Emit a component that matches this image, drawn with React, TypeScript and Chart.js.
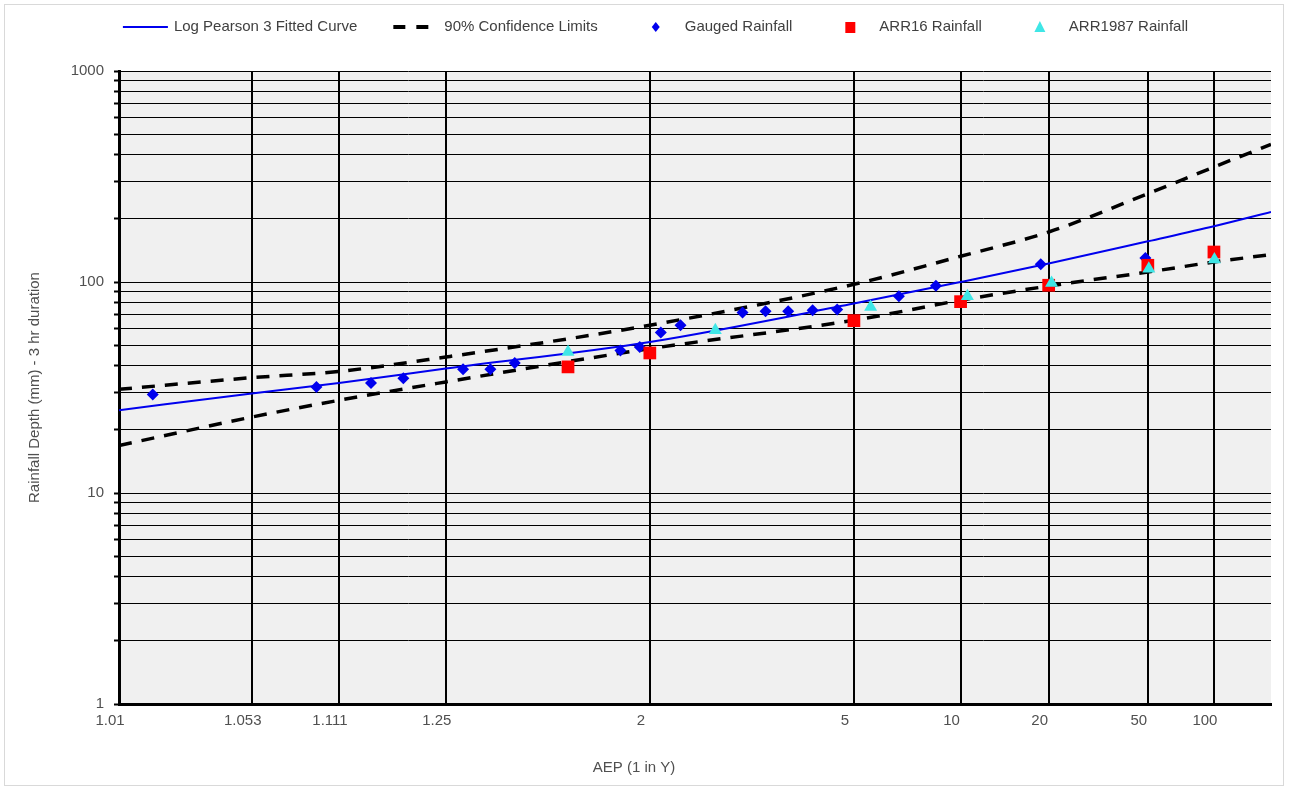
import React, { useEffect, useRef } from 'react';
import { Chart, registerables } from 'chart.js';

Chart.register(...registerables);

const FONT = "'Liberation Sans', Arial, sans-serif";
const FONT_SIZE = 15;
const TEXT_COLOR = '#505050';
const LEGEND_TEXT_COLOR = '#404040';

// ---- axes ----
const X_AXIS_MIN_AEP = 1.0145;
const X_AXIS_MAX_AEP = 192;
const X_TICK_AEPS = [1.01, 1.053, 1.111, 1.25, 2, 5, 10, 20, 50, 100];
const X_TICK_LABELS = ['1.01', '1.053', '1.111', '1.25', '2', '5', '10', '20', '50', '100'];
const X_TITLE = 'AEP (1 in Y)';
const Y_MIN = 1;
const Y_MAX = 1000;
const Y_DECADES = [1, 10, 100, 1000];
const Y_MINOR_MULTIPLIERS = [2, 3, 4, 5, 6, 7, 8, 9];
const Y_TITLE = 'Rainfall Depth (mm) - 3 hr duration';

// ---- curves (AEP 1 in Y vs depth mm) ----
const CURVE_AEP = [1.0145, 1.053, 1.111, 1.25, 2, 5, 10, 20, 50, 100, 192];
const FITTED = [24.7, 29.6, 33.2, 38.9, 52.0, 79.0, 100, 122.3, 155.9, 183.7, 214.7];
const UPPER_90 = [31.0, 35.2, 37.7, 44.1, 62.4, 97.5, 132.4, 172.6, 262, 350.8, 449];
const LOWER_90 = [16.8, 22.9, 27.5, 33.6, 48.3, 65.9, 81.9, 95.7, 111.5, 124.4, 134.9];

// ---- gauged rainfall ----
const GAUGED_AEP = [1.0206, 1.0924, 1.143, 1.183, 1.283, 1.343, 1.406, 1.824, 1.936, 2.075, 2.224, 2.848, 3.159, 3.519, 3.984, 4.548, 6.57, 8.4, 18.7, 48.8];
const GAUGED_DEPTH = [29.3, 31.8, 33.2, 35.0, 38.6, 38.6, 41.3, 47.3, 49.2, 57.6, 62.4, 71.6, 72.6, 72.6, 73.4, 74.0, 85.5, 96.1, 121.3, 130];

// ---- ARR16 ----
const ARR16_AEP = [1.582, 2, 5, 10, 20, 50, 100];
const ARR16_DEPTH = [39.6, 46.1, 65.6, 80.7, 96.5, 120, 138.7];

// ---- ARR1987 ----
const ARR87_AEP = [1.582, 2.541, 5.517, 10.51, 20.5, 50.5, 100.5];
const ARR87_DEPTH = [46.6, 59.0, 76.1, 85.5, 98.9, 115.7, 127.7];

// inverse standard normal CDF (Acklam)
function normInv(p: number): number {
  const a = [-3.969683028665376e1, 2.209460984245205e2, -2.759285104469687e2, 1.38357751867269e2, -3.066479806614716e1, 2.506628277459239];
  const b = [-5.447609879822406e1, 1.615858368580409e2, -1.556989798598866e2, 6.680131188771972e1, -1.328068155288572e1];
  const c = [-7.784894002430293e-3, -3.223964580411365e-1, -2.400758277161838, -2.549732539343734, 4.374664141464968, 2.938163982698783];
  const d = [7.784695709041462e-3, 3.224671290700398e-1, 2.445134137142996, 3.754408661907416];
  const pl = 0.02425;
  const ph = 1 - pl;
  if (p < pl) {
    const q = Math.sqrt(-2 * Math.log(p));
    return (((((c[0] * q + c[1]) * q + c[2]) * q + c[3]) * q + c[4]) * q + c[5]) / ((((d[0] * q + d[1]) * q + d[2]) * q + d[3]) * q + 1);
  }
  if (p <= ph) {
    const q = p - 0.5;
    const r = q * q;
    return ((((((a[0] * r + a[1]) * r + a[2]) * r + a[3]) * r + a[4]) * r + a[5]) * q) / (((((b[0] * r + b[1]) * r + b[2]) * r + b[3]) * r + b[4]) * r + 1);
  }
  const q = Math.sqrt(-2 * Math.log(1 - p));
  return -(((((c[0] * q + c[1]) * q + c[2]) * q + c[3]) * q + c[4]) * q + c[5]) / ((((d[0] * q + d[1]) * q + d[2]) * q + d[3]) * q + 1);
}

// AEP "1 in Y" -> normal probability axis coordinate
const zOf = (aep: number) => normInv(1 - 1 / aep);

const toPoints = (xs: number[], ys: number[]) => xs.map((x, i) => ({ x: zOf(x), y: ys[i] }));

const Y_TICKS: number[] = [];
Y_DECADES.forEach((d, i) => {
  Y_TICKS.push(d);
  if (i < Y_DECADES.length - 1) Y_MINOR_MULTIPLIERS.forEach((m) => Y_TICKS.push(d * m));
});

const plotBgPlugin = {
  id: 'plotBg',
  beforeDraw(chart: any) {
    const { ctx, chartArea: a } = chart;
    ctx.save();
    ctx.fillStyle = '#f0f0f0';
    ctx.fillRect(a.left, a.top, a.right - a.left, a.bottom - a.top);
    ctx.restore();
  },
};

const xTitlePlugin = {
  id: 'xTitle',
  afterDraw(chart: any) {
    const { ctx } = chart;
    ctx.save();
    ctx.font = `${FONT_SIZE}px ${FONT}`;
    ctx.fillStyle = TEXT_COLOR;
    ctx.textAlign = 'center';
    ctx.textBaseline = 'middle';
    ctx.fillText(X_TITLE, chart.width / 2 - 10, 763);
    ctx.restore();
  },
};

const legendPlugin = {
  id: 'rowLegend',
  afterDraw(chart: any) {
    const { ctx } = chart;
    const S = 46;
    const G = 6;
    const P = 35;
    const cy = 22;
    ctx.save();
    ctx.font = `${FONT_SIZE}px ${FONT}`;
    const items = chart.data.datasets.filter((ds: any) => ds.label);
    const widths = items.map((ds: any) => S + G + ctx.measureText(ds.label).width);
    const total = widths.reduce((s: number, w: number) => s + w, 0) + P * (items.length - 1);
    let x = chart.width / 2 + 11 - total / 2;
    items.forEach((ds: any, i: number) => {
      if (ds.showLine) {
        ctx.strokeStyle = ds.borderColor;
        ctx.lineWidth = ds.borderDash ? 4 : 2;
        ctx.setLineDash(ds.borderDash ? [12, 11] : []);
        ctx.beginPath();
        ctx.moveTo(x + 1, cy);
        ctx.lineTo(x + (ds.borderDash ? 36 : S), cy);
        ctx.stroke();
        ctx.setLineDash([]);
      } else {
        const cx = x + S / 2;
        ctx.fillStyle = ds.backgroundColor;
        ctx.beginPath();
        if (ds.pointStyle === 'rectRot') {
          ctx.moveTo(cx, cy - 5);
          ctx.lineTo(cx + 4, cy);
          ctx.lineTo(cx, cy + 5);
          ctx.lineTo(cx - 4, cy);
        } else if (ds.pointStyle === 'rect') {
          ctx.rect(cx - 5, cy - 5, 10, 11);
        } else {
          ctx.moveTo(cx, cy - 6);
          ctx.lineTo(cx + 5.5, cy + 5);
          ctx.lineTo(cx - 5.5, cy + 5);
        }
        ctx.closePath();
        ctx.fill();
      }
      ctx.fillStyle = LEGEND_TEXT_COLOR;
      ctx.textAlign = 'left';
      ctx.textBaseline = 'middle';
      ctx.fillText(ds.label, x + S + G, cy);
      x += widths[i] + P;
    });
    ctx.restore();
  },
};

export default function App() {
  const ref = useRef<HTMLCanvasElement | null>(null);

  useEffect(() => {
    if (!ref.current) return;
    Chart.defaults.font.family = FONT;
    const chart = new Chart(ref.current, {
      type: 'scatter',
      data: {
        datasets: [
          {
            label: 'Log Pearson 3 Fitted Curve',
            data: toPoints(CURVE_AEP, FITTED),
            showLine: true,
            borderColor: '#0000ee',
            backgroundColor: '#0000ee',
            borderWidth: 2,
            pointRadius: 0,
            pointHoverRadius: 0,
            cubicInterpolationMode: 'monotone',
            order: 5,
          },
          {
            label: '90% Confidence Limits',
            data: toPoints(CURVE_AEP, UPPER_90),
            showLine: true,
            borderColor: '#000000',
            backgroundColor: '#000000',
            borderWidth: 3.5,
            borderDash: [13, 10],
            pointRadius: 0,
            pointHoverRadius: 0,
            cubicInterpolationMode: 'monotone',
            order: 4,
          },
          {
            label: '',
            data: toPoints(CURVE_AEP, LOWER_90),
            showLine: true,
            borderColor: '#000000',
            backgroundColor: '#000000',
            borderWidth: 3.5,
            borderDash: [13, 10],
            pointRadius: 0,
            pointHoverRadius: 0,
            cubicInterpolationMode: 'monotone',
            order: 4,
          },
          {
            label: 'Gauged Rainfall',
            data: toPoints(GAUGED_AEP, GAUGED_DEPTH),
            pointStyle: 'rectRot',
            pointRadius: 6,
            backgroundColor: '#0000ee',
            borderColor: '#0000ee',
            borderWidth: 0,
            order: 2,
          },
          {
            label: 'ARR16 Rainfall',
            data: toPoints(ARR16_AEP, ARR16_DEPTH),
            pointStyle: 'rect',
            pointRadius: 9,
            backgroundColor: '#ff0000',
            borderColor: '#ff0000',
            borderWidth: 0,
            order: 1,
          },
          {
            label: 'ARR1987 Rainfall',
            data: toPoints(ARR87_AEP, ARR87_DEPTH),
            pointStyle: 'triangle',
            pointRadius: 7.5,
            backgroundColor: '#3fe6e6',
            borderColor: '#3fe6e6',
            borderWidth: 0,
            order: 0,
          },
        ],
      },
      options: {
        animation: false,
        responsive: false,
        devicePixelRatio: 1,
        layout: { padding: { top: 66, right: 12, left: 0, bottom: 0 } },
        plugins: { legend: { display: false }, tooltip: { enabled: false } },
        scales: {
          x: {
            type: 'linear',
            min: zOf(X_AXIS_MIN_AEP),
            max: zOf(X_AXIS_MAX_AEP),
            afterBuildTicks: (s: any) => {
              s.ticks = X_TICK_AEPS.map((a) => ({ value: Math.max(zOf(a), s.min) }));
            },
            afterFit: (s: any) => {
              s.height = 81;
            },
            ticks: {
              autoSkip: false,
              maxRotation: 0,
              minRotation: 0,
              labelOffset: -9,
              padding: 8,
              color: TEXT_COLOR,
              font: { family: FONT, size: FONT_SIZE },
              callback: (_v: any, i: number) => X_TICK_LABELS[i],
            },
            grid: { color: '#000000', lineWidth: 2, drawTicks: false },
            border: { color: '#000000', width: 3 },
          },
          y: {
            type: 'logarithmic',
            min: Y_MIN,
            max: Y_MAX,
            afterBuildTicks: (s: any) => {
              s.ticks = Y_TICKS.map((v) => ({ value: v, major: Y_DECADES.includes(v) }));
            },
            afterFit: (s: any) => {
              s.width = 114;
            },
            ticks: {
              autoSkip: false,
              padding: 10,
              color: TEXT_COLOR,
              font: { family: FONT, size: FONT_SIZE },
              callback: (v: any) => (Y_DECADES.includes(Number(v)) ? String(v) : ''),
            },
            grid: { color: '#000000', lineWidth: 1, tickLength: 5, tickWidth: 2, tickColor: '#000000' },
            border: { color: '#000000', width: 3 },
            title: {
              display: true,
              text: Y_TITLE,
              color: TEXT_COLOR,
              font: { family: FONT, size: FONT_SIZE },
              padding: { top: 21, bottom: 0 },
            },
          },
        },
      },
      plugins: [plotBgPlugin, xTitlePlugin, legendPlugin],
    } as any);
    return () => chart.destroy();
  }, []);

  return (
    <div
      style={{
        position: 'absolute',
        left: 4,
        top: 4,
        width: 1280,
        height: 782,
        border: '1px solid #d9d9d9',
        boxSizing: 'border-box',
        background: '#ffffff',
      }}
    >
      <canvas ref={ref} width={1278} height={780} style={{ display: 'block', width: 1278, height: 780 }} />
    </div>
  );
}
